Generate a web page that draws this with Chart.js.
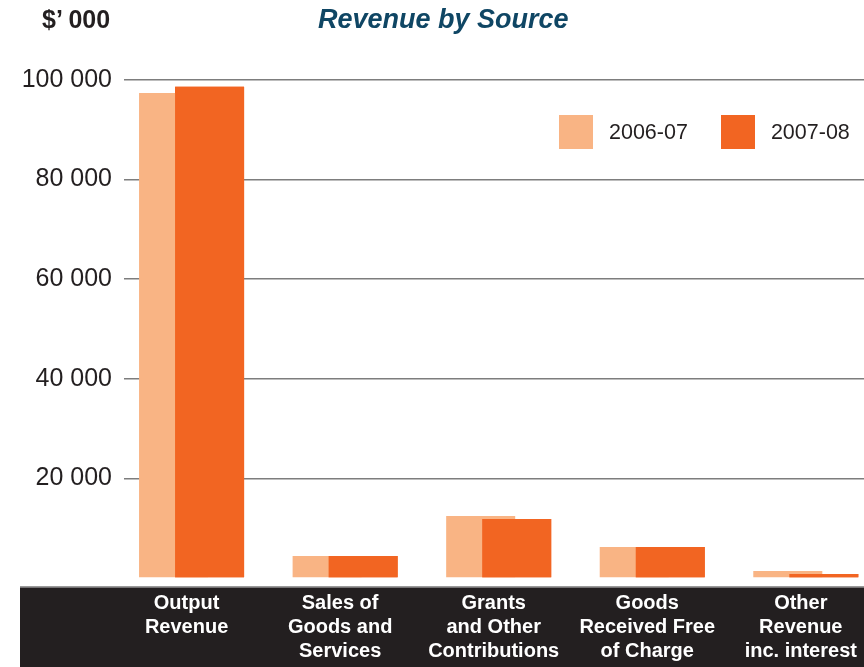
<!DOCTYPE html>
<html>
<head>
<meta charset="utf-8">
<title>Revenue by Source</title>
<script src="https://cdn.jsdelivr.net/npm/chart.js@4/dist/chart.umd.min.js"></script>
<style>
  body { margin: 0; background: #fff; font-family: 'Liberation Sans', Arial, sans-serif; }
  #wrap { position: relative; width: 864px; height: 667px; overflow: hidden; }
  #revChart { position: absolute; left: 0; top: 0; }
  .unit { position: absolute; left: 42px; top: 5px; font-size: 25px; font-weight: bold; color: #231f20; }
  .title { position: absolute; left: 318px; top: 4px; font-size: 27px; font-weight: bold; font-style: italic; color: #0f4664; }
  #legend { position: absolute; left: 559px; top: 115px; display: flex; align-items: center; }
  .leg-item { display: flex; align-items: center; margin-right: 33px; }
  .leg-item:last-child { margin-right: 0; }
  .leg-box { width: 34px; height: 34px; margin-right: 16px; }
  .leg-text { font-size: 21.5px; color: #231f20; }
</style>
</head>
<body>
<div id="wrap">
  <canvas id="revChart" width="864" height="667"></canvas>
  <div class="unit">$’ 000</div>
  <div class="title">Revenue by Source</div>
  <div id="legend"></div>
</div>
<script>
// ── Data ($'000) ──────────────────────────────────────────────────
const categories = [
    ['Output', 'Revenue'],
    ['Sales of', 'Goods and', 'Services'],
    ['Grants', 'and Other', 'Contributions'],
    ['Goods', 'Received Free', 'of Charge'],
    ['Other', 'Revenue', 'inc. interest']
];
const years = ['2006-07', '2007-08'];
const revenue0607 = [97400, 4400, 12450, 6200, 1400];
const revenue0708 = [98650, 4400, 11850, 6200, 800];
const yMax = 100000;
const yStep = 20000;

const colours = ['#f9b484', '#f26522'];

const toPoints = arr => arr.map((v, i) => ({ x: i, y: v }));
const fmtThousands = v => String(v).replace(/\B(?=(\d{3})+(?!\d))/g, ' ');

// dark strip behind the category labels
const labelBand = {
    id: 'labelBand',
    beforeDraw(chart) {
        const { ctx, chartArea } = chart;
        const top = chartArea.bottom + 8;
        ctx.save();
        ctx.fillStyle = '#9a9a9a';
        ctx.fillRect(20, top, chart.width - 20, 1.5);
        ctx.fillStyle = '#231f20';
        ctx.fillRect(20, top + 1.5, chart.width - 20, chart.height - top);
        ctx.restore();
    }
};

// the later year overlaps the earlier one, so paint it last
const frontSeries = {
    id: 'frontSeries',
    afterDatasetsDraw(chart) {
        chart.getDatasetMeta(1).controller.draw();
    }
};

const chart = new Chart(document.getElementById('revChart'), {
    type: 'bar',
    data: {
        datasets: [
            { label: years[0], data: toPoints(revenue0607), backgroundColor: colours[0] },
            { label: years[1], data: toPoints(revenue0708), backgroundColor: colours[1] }
        ]
    },
    options: {
        responsive: false,
        animation: false,
        categoryPercentage: 0.469,
        barPercentage: 1.917,
        layout: { padding: { top: 80, left: 0, right: 0, bottom: 0 } },
        plugins: { legend: { display: false }, title: { display: false }, tooltip: { enabled: false } },
        scales: {
            x: {
                type: 'linear',
                offset: false,
                min: -0.44,
                max: 4.379,
                grid: { display: false, drawTicks: false, offset: false },
                border: { display: false },
                afterBuildTicks: axis => { axis.ticks = categories.map((_, i) => ({ value: i })); },
                afterFit: axis => {
                    axis.height = 89;
                    axis.paddingLeft = 0;
                    axis.paddingRight = 0;
                },
                ticks: {
                    autoSkip: false,
                    maxRotation: 0,
                    padding: 13,
                    labelOffset: -5,
                    color: '#ffffff',
                    font: { family: "'Liberation Sans', Arial, sans-serif", size: 20, weight: 'bold', lineHeight: 1.2 },
                    callback: v => categories[v]
                }
            },
            y: {
                min: 0,
                max: yMax,
                grid: {
                    drawTicks: false,
                    lineWidth: 1.5,
                    color: c => (c.tick && c.tick.value === 0) ? 'rgba(0,0,0,0)' : '#7d7d7d'
                },
                border: { display: false },
                afterFit: axis => { axis.width = 124; },
                ticks: {
                    stepSize: yStep,
                    padding: 12,
                    color: '#231f20',
                    font: { family: "'Liberation Sans', Arial, sans-serif", size: 25 },
                    callback: v => v === 0 ? '' : fmtThousands(v)
                }
            }
        }
    },
    plugins: [labelBand, frontSeries]
});

// legend
const legend = document.getElementById('legend');
chart.data.datasets.forEach(ds => {
    legend.insertAdjacentHTML('beforeend',
        `<div class="leg-item"><div class="leg-box" style="background:${ds.backgroundColor}"></div>` +
        `<span class="leg-text">${ds.label}</span></div>`);
});
</script>
</body>
</html>
